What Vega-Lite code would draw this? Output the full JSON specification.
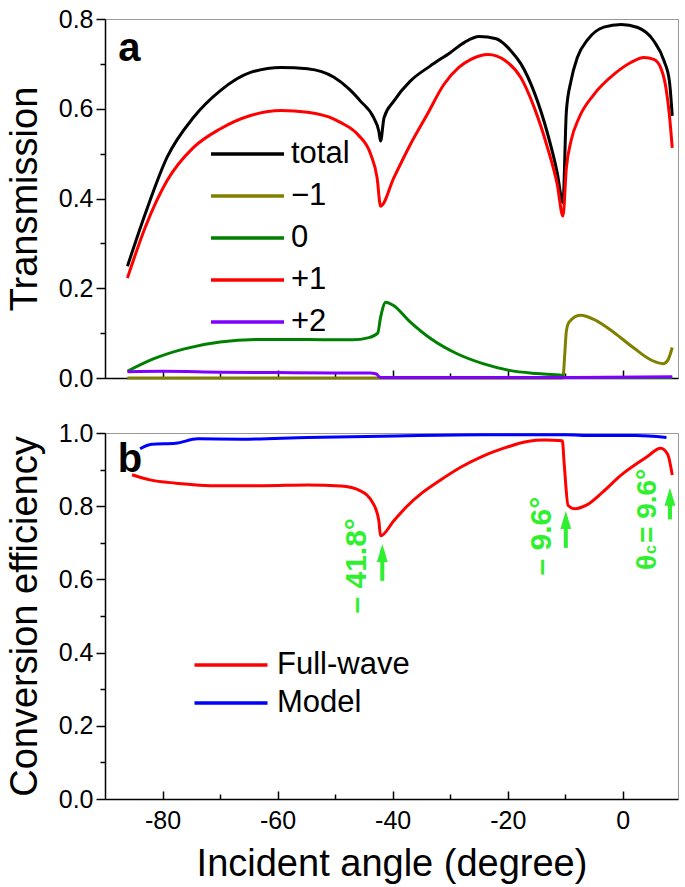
{
  "$schema": "https://vega.github.io/schema/vega-lite/v6.json",
  "padding": {"left": 5, "top": 6, "right": 5, "bottom": 0},
  "config": {
    "font": "Liberation Sans",
    "view": {"stroke": "#999", "strokeWidth": 1},
    "axis": {"domainColor": "#000", "domainWidth": 1.5, "tickColor": "#000", "tickWidth": 1.5, "labelFont": "Liberation Sans", "labelFontSize": 25, "labelColor": "#000", "titleFont": "Liberation Sans", "titleFontSize": 38, "titleFontWeight": "normal", "titleColor": "#000", "grid": false},
    "legend": {"padding": 0, "labelFont": "Liberation Sans", "labelColor": "#000", "labelFontSize": 31}
  },
  "datasets": {
    "a": [
      {"x": -86.1, "v": 0.249, "s": "total"}, {"x": -83.0, "v": 0.366, "s": "total"}, {"x": -79.2, "v": 0.492, "s": "total"}, {"x": -74.6, "v": 0.581, "s": "total"}, {"x": -70.0, "v": 0.640, "s": "total"}, {"x": -64.7, "v": 0.681, "s": "total"}, {"x": -59.4, "v": 0.692, "s": "total"}, {"x": -54.8, "v": 0.689, "s": "total"}, {"x": -50.2, "v": 0.670, "s": "total"}, {"x": -47.5, "v": 0.643, "s": "total"}, {"x": -45.6, "v": 0.617, "s": "total"}, {"x": -43.3, "v": 0.580, "s": "total"}, {"x": -42.4, "v": 0.550, "s": "total"}, {"x": -42.1, "v": 0.528, "s": "total"}, {"x": -41.5, "v": 0.580, "s": "total"}, {"x": -39.8, "v": 0.617, "s": "total"}, {"x": -36.9, "v": 0.662, "s": "total"}, {"x": -33.5, "v": 0.695, "s": "total"}, {"x": -30.0, "v": 0.725, "s": "total"}, {"x": -27.5, "v": 0.748, "s": "total"}, {"x": -25.0, "v": 0.761, "s": "total"}, {"x": -22.0, "v": 0.756, "s": "total"}, {"x": -19.5, "v": 0.730, "s": "total"}, {"x": -17.7, "v": 0.700, "s": "total"}, {"x": -15.4, "v": 0.637, "s": "total"}, {"x": -13.1, "v": 0.546, "s": "total"}, {"x": -11.4, "v": 0.458, "s": "total"}, {"x": -10.4, "v": 0.391, "s": "total"}, {"x": -9.8, "v": 0.595, "s": "total"}, {"x": -9.0, "v": 0.662, "s": "total"}, {"x": -7.9, "v": 0.714, "s": "total"}, {"x": -6.1, "v": 0.754, "s": "total"}, {"x": -3.3, "v": 0.782, "s": "total"}, {"x": -0.3, "v": 0.788, "s": "total"}, {"x": 2.6, "v": 0.781, "s": "total"}, {"x": 5.4, "v": 0.751, "s": "total"}, {"x": 7.2, "v": 0.706, "s": "total"}, {"x": 8.1, "v": 0.662, "s": "total"}, {"x": 8.6, "v": 0.584, "s": "total"},
      {"x": -86.1, "v": 0.0, "s": "−1"}, {"x": -42.0, "v": 0.0, "s": "−1"}, {"x": -10.4, "v": 0.0, "s": "−1"}, {"x": -10.1, "v": 0.05, "s": "−1"}, {"x": -9.8, "v": 0.105, "s": "−1"}, {"x": -9.3, "v": 0.125, "s": "−1"}, {"x": -7.4, "v": 0.140, "s": "−1"}, {"x": -4.6, "v": 0.128, "s": "−1"}, {"x": -1.6, "v": 0.102, "s": "−1"}, {"x": 2.1, "v": 0.065, "s": "−1"}, {"x": 5.1, "v": 0.039, "s": "−1"}, {"x": 7.0, "v": 0.032, "s": "−1"}, {"x": 7.8, "v": 0.039, "s": "−1"}, {"x": 8.6, "v": 0.068, "s": "−1"},
      {"x": -86.1, "v": 0.015, "s": "0"}, {"x": -81.5, "v": 0.043, "s": "0"}, {"x": -76.2, "v": 0.065, "s": "0"}, {"x": -70.0, "v": 0.080, "s": "0"}, {"x": -62.4, "v": 0.086, "s": "0"}, {"x": -54.8, "v": 0.086, "s": "0"}, {"x": -47.1, "v": 0.085, "s": "0"}, {"x": -44.1, "v": 0.090, "s": "0"}, {"x": -42.6, "v": 0.100, "s": "0"}, {"x": -42.1, "v": 0.135, "s": "0"}, {"x": -41.2, "v": 0.169, "s": "0"}, {"x": -39.9, "v": 0.162, "s": "0"}, {"x": -37.2, "v": 0.128, "s": "0"}, {"x": -33.4, "v": 0.088, "s": "0"}, {"x": -28.8, "v": 0.054, "s": "0"}, {"x": -24.3, "v": 0.032, "s": "0"}, {"x": -19.7, "v": 0.017, "s": "0"}, {"x": -15.1, "v": 0.010, "s": "0"}, {"x": -10.6, "v": 0.006, "s": "0"}, {"x": -10.2, "v": 0.001, "s": "0"}, {"x": 0.0, "v": 0.001, "s": "0"}, {"x": 8.6, "v": 0.001, "s": "0"},
      {"x": -86.1, "v": 0.223, "s": "+1"}, {"x": -83.0, "v": 0.336, "s": "+1"}, {"x": -79.2, "v": 0.440, "s": "+1"}, {"x": -74.6, "v": 0.514, "s": "+1"}, {"x": -70.0, "v": 0.555, "s": "+1"}, {"x": -64.7, "v": 0.585, "s": "+1"}, {"x": -59.4, "v": 0.596, "s": "+1"}, {"x": -54.8, "v": 0.592, "s": "+1"}, {"x": -50.2, "v": 0.577, "s": "+1"}, {"x": -49.0, "v": 0.569, "s": "+1"}, {"x": -46.1, "v": 0.543, "s": "+1"}, {"x": -43.8, "v": 0.498, "s": "+1"}, {"x": -42.7, "v": 0.446, "s": "+1"}, {"x": -42.1, "v": 0.383, "s": "+1"}, {"x": -39.8, "v": 0.446, "s": "+1"}, {"x": -36.9, "v": 0.521, "s": "+1"}, {"x": -34.0, "v": 0.587, "s": "+1"}, {"x": -31.1, "v": 0.654, "s": "+1"}, {"x": -28.5, "v": 0.692, "s": "+1"}, {"x": -26.4, "v": 0.710, "s": "+1"}, {"x": -23.4, "v": 0.721, "s": "+1"}, {"x": -20.4, "v": 0.707, "s": "+1"}, {"x": -17.7, "v": 0.669, "s": "+1"}, {"x": -15.4, "v": 0.603, "s": "+1"}, {"x": -13.1, "v": 0.514, "s": "+1"}, {"x": -11.4, "v": 0.432, "s": "+1"}, {"x": -10.4, "v": 0.361, "s": "+1"}, {"x": -9.8, "v": 0.469, "s": "+1"}, {"x": -9.0, "v": 0.528, "s": "+1"}, {"x": -7.6, "v": 0.580, "s": "+1"}, {"x": -5.0, "v": 0.632, "s": "+1"}, {"x": -1.5, "v": 0.677, "s": "+1"}, {"x": 1.4, "v": 0.703, "s": "+1"}, {"x": 3.7, "v": 0.714, "s": "+1"}, {"x": 5.4, "v": 0.710, "s": "+1"}, {"x": 6.6, "v": 0.691, "s": "+1"}, {"x": 7.5, "v": 0.647, "s": "+1"}, {"x": 8.1, "v": 0.587, "s": "+1"}, {"x": 8.6, "v": 0.513, "s": "+1"},
      {"x": -86.1, "v": 0.014, "s": "+2"}, {"x": -80.0, "v": 0.015, "s": "+2"}, {"x": -70.0, "v": 0.013, "s": "+2"}, {"x": -60.0, "v": 0.012, "s": "+2"}, {"x": -50.0, "v": 0.011, "s": "+2"}, {"x": -44.0, "v": 0.011, "s": "+2"}, {"x": -42.8, "v": 0.009, "s": "+2"}, {"x": -42.3, "v": 0.002, "s": "+2"}, {"x": -41.7, "v": 0.001, "s": "+2"}, {"x": -10.0, "v": 0.001, "s": "+2"}, {"x": 8.6, "v": 0.003, "s": "+2"}
    ],
    "b": [
      {"x": -85.3, "v": 0.886, "s": "Full-wave"}, {"x": -82.2, "v": 0.872, "s": "Full-wave"}, {"x": -77.7, "v": 0.863, "s": "Full-wave"}, {"x": -70.0, "v": 0.856, "s": "Full-wave"}, {"x": -62.4, "v": 0.856, "s": "Full-wave"}, {"x": -54.8, "v": 0.858, "s": "Full-wave"}, {"x": -49.0, "v": 0.855, "s": "Full-wave"}, {"x": -45.6, "v": 0.842, "s": "Full-wave"}, {"x": -43.3, "v": 0.805, "s": "Full-wave"}, {"x": -42.4, "v": 0.760, "s": "Full-wave"}, {"x": -42.1, "v": 0.719, "s": "Full-wave"}, {"x": -39.8, "v": 0.760, "s": "Full-wave"}, {"x": -37.5, "v": 0.800, "s": "Full-wave"}, {"x": -35.0, "v": 0.835, "s": "Full-wave"}, {"x": -32.0, "v": 0.868, "s": "Full-wave"}, {"x": -28.1, "v": 0.907, "s": "Full-wave"}, {"x": -24.3, "v": 0.937, "s": "Full-wave"}, {"x": -20.4, "v": 0.960, "s": "Full-wave"}, {"x": -16.6, "v": 0.977, "s": "Full-wave"}, {"x": -13.6, "v": 0.981, "s": "Full-wave"}, {"x": -10.5, "v": 0.979, "s": "Full-wave"}, {"x": -10.2, "v": 0.920, "s": "Full-wave"}, {"x": -9.5, "v": 0.802, "s": "Full-wave"}, {"x": -8.3, "v": 0.793, "s": "Full-wave"}, {"x": -6.4, "v": 0.802, "s": "Full-wave"}, {"x": -3.4, "v": 0.840, "s": "Full-wave"}, {"x": -0.3, "v": 0.885, "s": "Full-wave"}, {"x": 4.2, "v": 0.935, "s": "Full-wave"}, {"x": 6.6, "v": 0.958, "s": "Full-wave"}, {"x": 7.8, "v": 0.942, "s": "Full-wave"}, {"x": 8.6, "v": 0.885, "s": "Full-wave"},
      {"x": -83.9, "v": 0.957, "s": "Model"}, {"x": -81.9, "v": 0.969, "s": "Model"}, {"x": -77.7, "v": 0.972, "s": "Model"}, {"x": -73.9, "v": 0.984, "s": "Model"}, {"x": -66.2, "v": 0.983, "s": "Model"}, {"x": -54.8, "v": 0.988, "s": "Model"}, {"x": -39.5, "v": 0.992, "s": "Model"}, {"x": -24.3, "v": 0.995, "s": "Model"}, {"x": -9.9, "v": 0.995, "s": "Model"}, {"x": -5.3, "v": 0.993, "s": "Model"}, {"x": 2.3, "v": 0.993, "s": "Model"}, {"x": 7.6, "v": 0.988, "s": "Model"}
    ],
    "arrows": [
      {"x": -41.8, "y1": 0.596, "y2": 0.68, "yh": 0.672},
      {"x": -9.9, "y1": 0.686, "y2": 0.77, "yh": 0.762},
      {"x": 8.2, "y1": 0.764, "y2": 0.834, "yh": 0.826}
    ],
    "angles": [
      {"x": -44.7, "y": 0.637, "t": "– 41.8°"},
      {"x": -12.5, "y": 0.718, "t": "– 9.6°"}
    ]
  },
  "spacing": 55,
  "bounds": "flush",
  "resolve": {"scale": {"color": "independent"}},
  "vconcat": [
    {
      "width": 573,
      "height": 359,
      "layer": [
        {
          "data": {"name": "a"},
          "mark": {"type": "line", "strokeWidth": 3, "interpolate": "monotone"},
          "encoding": {
            "x": {"field": "x", "type": "quantitative", "scale": {"domain": [-90, 9.6], "nice": false, "zero": false},
                  "axis": {"orient": "bottom", "values": [-80, -60, -40, -20, 0], "labels": false, "title": null, "tickSize": -8}},
            "y": {"field": "v", "type": "quantitative", "scale": {"domain": [0, 0.8], "nice": false},
                  "axis": {"orient": "left", "values": [0, 0.2, 0.4, 0.6, 0.8], "format": ".1f", "title": "Transmission", "tickSize": 9, "labelPadding": 3, "titlePadding": 14}},
            "color": {"field": "s", "type": "nominal",
                      "scale": {"domain": ["total", "−1", "0", "+1", "+2"], "range": ["#000000", "#808000", "#008000", "#ff0000", "#8000ff"]},
                      "legend": {"orient": "none", "legendX": 126, "legendY": 118.5, "title": null, "symbolType": "M-2.5,0L2.5,0", "symbolSize": 853, "symbolStrokeWidth": 3.5, "labelOffset": 27, "rowPadding": 10}}
          }
        },
        {
          "data": {"values": [{"x": -87.7, "v": 0.706, "t": "a"}]},
          "mark": {"type": "text", "align": "left", "baseline": "alphabetic", "fontSize": 40, "fontWeight": "bold", "color": "#000"},
          "encoding": {
            "x": {"field": "x", "type": "quantitative", "scale": {"domain": [-90, 9.6], "nice": false, "zero": false},
                  "axis": {"orient": "bottom", "values": [-70, -50, -30, -10], "labels": false, "title": null, "domain": false, "tickSize": -5}},
            "y": {"field": "v", "type": "quantitative", "scale": {"domain": [0, 0.8], "nice": false},
                  "axis": {"orient": "left", "values": [0.1, 0.3, 0.5, 0.7], "labels": false, "title": null, "domain": false, "tickSize": 5}},
            "text": {"field": "t"}
          }
        }
      ],
      "resolve": {"axis": {"x": "independent", "y": "independent"}}
    },
    {
      "width": 573,
      "height": 366,
      "layer": [
        {
          "data": {"name": "b"},
          "mark": {"type": "line", "strokeWidth": 3, "interpolate": "monotone"},
          "encoding": {
            "x": {"field": "x", "type": "quantitative", "scale": {"domain": [-90, 9.6], "nice": false, "zero": false},
                  "axis": {"orient": "bottom", "values": [-80, -60, -40, -20, 0], "labelExpr": "'' + datum.value", "title": "Incident angle (degree)", "tickSize": -8, "labelPadding": 17, "titlePadding": 12}},
            "y": {"field": "v", "type": "quantitative", "scale": {"domain": [0, 1.0], "nice": false},
                  "axis": {"orient": "left", "values": [0, 0.2, 0.4, 0.6, 0.8, 1.0], "format": ".1f", "title": "Conversion efficiency", "tickSize": 9, "labelPadding": 3, "titlePadding": 14}},
            "color": {"field": "s", "type": "nominal",
                      "scale": {"domain": ["Full-wave", "Model"], "range": ["#ff0000", "#0000ff"]},
                      "legend": {"orient": "none", "legendX": 109.5, "legendY": 215.5, "title": null, "symbolType": "M-2.5,0L2.5,0", "symbolSize": 853, "symbolStrokeWidth": 3.5, "labelOffset": 29.5, "rowPadding": 6}}
          }
        },
        {
          "data": {"name": "arrows"},
          "mark": {"type": "rule", "strokeWidth": 4, "color": "#2ef02e"},
          "encoding": {
            "x": {"field": "x", "type": "quantitative", "axis": null},
            "y": {"field": "y1", "type": "quantitative", "axis": null},
            "y2": {"field": "y2"}
          }
        },
        {
          "data": {"name": "arrows"},
          "mark": {"type": "point", "shape": "M0,-1L0.6,1L-0.6,1Z", "size": 324, "filled": true, "opacity": 1, "color": "#2ef02e"},
          "encoding": {
            "x": {"field": "x", "type": "quantitative", "axis": null},
            "y": {"field": "yh", "type": "quantitative", "axis": null}
          }
        },
        {
          "data": {"name": "angles"},
          "mark": {"type": "text", "angle": 270, "align": "center", "baseline": "alphabetic", "fontSize": 30, "fontWeight": "bold", "color": "#2ef02e"},
          "encoding": {
            "x": {"field": "x", "type": "quantitative", "axis": null},
            "y": {"field": "y", "type": "quantitative", "axis": null},
            "text": {"field": "t"}
          }
        },
        {
          "data": {"values": [{"x": 5.74, "y": 0.6257, "t": "θ"}, {"x": 5.74, "y": 0.6995, "t": "= 9.6°"}]},
          "mark": {"type": "text", "angle": 270, "align": "left", "baseline": "alphabetic", "fontSize": 28, "fontWeight": "bold", "color": "#2ef02e"},
          "encoding": {
            "x": {"field": "x", "type": "quantitative", "axis": null},
            "y": {"field": "y", "type": "quantitative", "axis": null},
            "text": {"field": "t"}
          }
        },
        {
          "data": {"values": [{"x": 5.74, "y": 0.6475, "t": "c"}]},
          "mark": {"type": "text", "angle": 270, "align": "left", "baseline": "alphabetic", "fontSize": 16, "fontWeight": "bold", "dx": 8, "color": "#2ef02e"},
          "encoding": {
            "x": {"field": "x", "type": "quantitative", "axis": null},
            "y": {"field": "y", "type": "quantitative", "axis": null},
            "text": {"field": "t"}
          }
        },
        {
          "data": {"values": [{"x": -87.8, "v": 0.893, "t": "b"}]},
          "mark": {"type": "text", "align": "left", "baseline": "alphabetic", "fontSize": 40, "fontWeight": "bold", "color": "#000"},
          "encoding": {
            "x": {"field": "x", "type": "quantitative", "scale": {"domain": [-90, 9.6], "nice": false, "zero": false},
                  "axis": {"orient": "bottom", "values": [-70, -50, -30, -10], "labels": false, "title": null, "domain": false, "tickSize": -5}},
            "y": {"field": "v", "type": "quantitative", "scale": {"domain": [0, 1.0], "nice": false},
                  "axis": {"orient": "left", "values": [0.1, 0.3, 0.5, 0.7, 0.9], "labels": false, "title": null, "domain": false, "tickSize": 5}},
            "text": {"field": "t"}
          }
        }
      ],
      "resolve": {"axis": {"x": "independent", "y": "independent"}}
    }
  ]
}
